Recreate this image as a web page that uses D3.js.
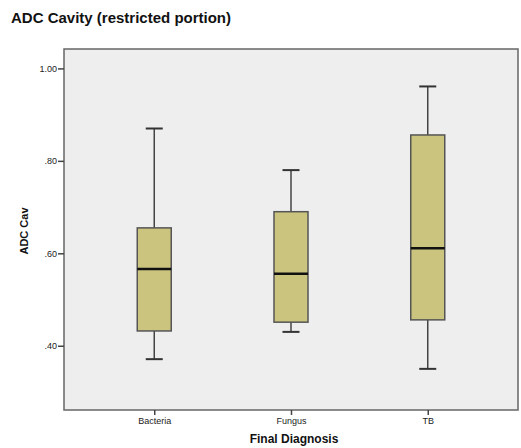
<!DOCTYPE html>
<html>
<head>
<meta charset="utf-8">
<script src="https://cdnjs.cloudflare.com/ajax/libs/d3/7.8.5/d3.min.js"></script>
<style>
  body { margin: 0; background: #fff; }
  text { font-family: "Liberation Sans", Arial, sans-serif; }
</style>
</head>
<body>
<svg id="chart" width="521" height="448"></svg>
<script>
// box statistics
var groups = ["Bacteria", "Fungus", "TB"];
var lowWhisker = [0.371, 0.430, 0.350];
var q1 = [0.432, 0.451, 0.456];
var median = [0.566, 0.556, 0.611];
var q3 = [0.655, 0.690, 0.856];
var highWhisker = [0.870, 0.780, 0.961];
var yTicks = [0.4, 0.6, 0.8, 1.0];

var margin = {top: 49, right: 3, bottom: 38, left: 64},
    width = 521 - margin.left - margin.right,
    height = 448 - margin.top - margin.bottom;

var svg = d3.select("#chart");

// title
svg.append("text")
    .attr("x", 11)
    .attr("y", 23)
    .attr("font-size", "15px")
    .attr("font-weight", "bold")
    .attr("fill", "#111")
    .text("ADC Cavity (restricted portion)");

var g = svg.append("g")
    .attr("transform", "translate(" + margin.left + "," + margin.top + ")");

var x = d3.scalePoint()
    .domain(groups)
    .range([0, width])
    .padding(0.66);

var y = d3.scaleLinear()
    .domain([0.261, 1.042])
    .range([height, 0]);

// plot background
g.append("rect")
    .attr("width", width)
    .attr("height", height)
    .attr("fill", "#eeeeee")
    .attr("stroke", "#666")
    .attr("stroke-width", 1.5);

var data = groups.map(function(d, i) {
  return {group: d, lo: lowWhisker[i], q1: q1[i], med: median[i], q3: q3[i], hi: highWhisker[i]};
});

var boxW = 34, capW = 17;

var box = g.selectAll(".box")
  .data(data)
  .enter().append("g")
    .attr("class", "box")
    .attr("transform", function(d) { return "translate(" + x(d.group) + ",0)"; });

// whiskers
box.append("line")
    .attr("x1", 0).attr("x2", 0)
    .attr("y1", function(d) { return y(d.hi); })
    .attr("y2", function(d) { return y(d.lo); })
    .attr("stroke", "#444").attr("stroke-width", 1.5);

box.selectAll(".cap")
  .data(function(d) { return [d.hi, d.lo]; })
  .enter().append("line")
    .attr("class", "cap")
    .attr("x1", -capW / 2).attr("x2", capW / 2)
    .attr("y1", function(v) { return y(v); })
    .attr("y2", function(v) { return y(v); })
    .attr("stroke", "#333").attr("stroke-width", 2);

box.append("rect")
    .attr("x", -boxW / 2)
    .attr("width", boxW)
    .attr("y", function(d) { return y(d.q3); })
    .attr("height", function(d) { return y(d.q1) - y(d.q3); })
    .attr("fill", "#cbc47f")
    .attr("stroke", "#555")
    .attr("stroke-width", 1.5);

box.append("line")
    .attr("x1", -boxW / 2).attr("x2", boxW / 2)
    .attr("y1", function(d) { return y(d.med); })
    .attr("y2", function(d) { return y(d.med); })
    .attr("stroke", "#111").attr("stroke-width", 2.5);

// Y axis
var yAxis = g.append("g")
    .call(d3.axisLeft(y).tickValues(yTicks).tickSize(6).tickSizeOuter(0)
      .tickFormat(function(d) { return d3.format(".2f")(d).replace(/^0/, ""); }));
yAxis.select(".domain").remove();
yAxis.selectAll(".tick line").attr("stroke", "#444").attr("stroke-width", 1.5);
yAxis.selectAll(".tick text").attr("font-size", "9px").attr("fill", "#222").attr("x", -7)
    .style("font-family", "'Liberation Sans', Arial, sans-serif");

// X axis
var xAxis = g.append("g")
    .attr("transform", "translate(0," + height + ")")
    .call(d3.axisBottom(x).tickSize(5).tickSizeOuter(0));
xAxis.select(".domain").remove();
xAxis.selectAll(".tick line").attr("stroke", "#444").attr("stroke-width", 1.5);
xAxis.selectAll(".tick text").attr("font-size", "9px").attr("fill", "#222").attr("y", 8)
    .style("font-family", "'Liberation Sans', Arial, sans-serif");

// axis titles
svg.append("text")
    .attr("x", margin.left + width / 2 + 3)
    .attr("y", 443)
    .attr("text-anchor", "middle")
    .attr("font-size", "12px")
    .attr("font-weight", "bold")
    .attr("fill", "#111")
    .text("Final Diagnosis");

svg.append("text")
    .attr("transform", "translate(28,231) rotate(-90)")
    .attr("text-anchor", "middle")
    .attr("font-size", "11px")
    .attr("font-weight", "bold")
    .attr("fill", "#111")
    .text("ADC Cav");
</script>
</body>
</html>
